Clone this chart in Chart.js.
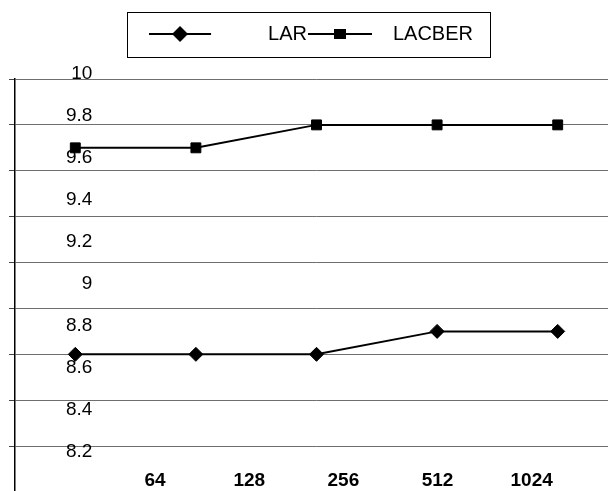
<!DOCTYPE html>
<html lang="en">
<head>
<meta charset="UTF-8">
<title>LAR / LACBER</title>
<script src="https://cdn.jsdelivr.net/npm/chart.js"></script>
<style>
  html, body { margin: 0; padding: 0; background: #fff; }
  #wrap { width: 608px; height: 491px; overflow: hidden; position: relative; }
  #chart { position: absolute; left: 0; top: 0; }
</style>
</head>
<body>
<div id="wrap"><canvas id="chart" width="650" height="500"></canvas></div>
<script>
const categories = ['64', '128', '256', '512', '1024'];
const lar = [8.8, 8.8, 8.8, 8.9, 8.9];
const lacber = [9.7, 9.7, 9.8, 9.8, 9.8];
const yTickValues = [10, 9.8, 9.6, 9.4, 9.2, 9, 8.8, 8.6, 8.4, 8.2];

Chart.defaults.font.family = "'Liberation Sans', Arial, sans-serif";
Chart.defaults.color = '#000';

// legend swatch: a short line with the marker in the middle
function legendIcon(marker, imgWidth, lineFrom, lineTo) {
    const c = document.createElement('canvas');
    c.width = imgWidth;
    c.height = 18;
    const g = c.getContext('2d');
    g.strokeStyle = '#000';
    g.lineWidth = 2;
    g.beginPath();
    g.moveTo(lineFrom, 9);
    g.lineTo(lineTo, 9);
    g.stroke();
    const cx = (lineFrom + lineTo) / 2;
    g.fillStyle = '#000';
    g.beginPath();
    if (marker === 'diamond') {
        g.moveTo(cx, 1); g.lineTo(cx + 8, 9); g.lineTo(cx, 17); g.lineTo(cx - 8, 9);
        g.closePath();
    } else {
        g.rect(cx - 6, 4, 12, 10);
    }
    g.fill();
    return c;
}
const icons = [legendIcon('diamond', 142, 0, 62), legendIcon('square', 76, 1, 65)];

const legendFrame = {
    id: 'legendFrame',
    afterDraw(chart) {
        const hb = chart.legend.legendHitBoxes;
        if (!hb || !hb.length) return;
        const first = hb[0], last = hb[hb.length - 1];
        const x0 = Math.round(first.left - 55) + 0.5;
        const x1 = Math.round(last.left + last.width + 17) + 0.5;
        const y0 = Math.round(first.top - 12) + 0.5;
        const y1 = Math.round(first.top + 33) + 0.5;
        const ctx = chart.ctx;
        ctx.save();
        ctx.strokeStyle = '#000';
        ctx.lineWidth = 1;
        ctx.strokeRect(x0, y0, x1 - x0, y1 - y0);
        ctx.restore();
    }
};

new Chart(document.getElementById('chart'), {
    type: 'line',
    data: {
        labels: categories,
        datasets: [{
            label: 'LAR',
            data: lar,
            borderColor: '#000',
            backgroundColor: '#000',
            borderWidth: 2,
            pointStyle: 'rectRot',
            pointRadius: 7,
            pointBorderWidth: 1,
            tension: 0
        }, {
            label: 'LACBER',
            data: lacber,
            borderColor: '#000',
            backgroundColor: '#000',
            borderWidth: 2,
            pointStyle: 'rect',
            pointRadius: 7,
            pointBorderWidth: 1,
            tension: 0
        }]
    },
    options: {
        responsive: false,
        animation: false,
        layout: { padding: { left: 9, top: 24, right: 4, bottom: 8 } },
        plugins: {
            tooltip: { enabled: false },
            legend: {
                position: 'top',
                labels: {
                    usePointStyle: true,
                    pointStyleWidth: 76,
                    padding: 0,
                    font: { size: 20 },
                    color: '#000',
                    generateLabels: chart => chart.data.datasets.map((ds, i) => ({
                        text: ds.label,
                        pointStyle: icons[i],
                        datasetIndex: i,
                        fillStyle: '#000',
                        strokeStyle: '#000',
                        lineWidth: 0,
                        hidden: false
                    }))
                }
            }
        },
        scales: {
            x: {
                type: 'category',
                position: 'top',
                offset: true,
                grid: { display: false, drawTicks: false },
                border: { display: false },
                ticks: { display: false },
                afterFit: s => { s.height = 25; }
            },
            xText: {
                type: 'linear',
                position: 'bottom',
                min: -1.488,
                max: 4.917,
                grid: { display: false, drawTicks: false },
                border: { display: false },
                ticks: {
                    mirror: true,
                    padding: 0,
                    autoSkip: false,
                    maxRotation: 0,
                    font: { size: 19, weight: 'bold' },
                    callback: v => categories[v]
                },
                afterBuildTicks: s => { s.ticks = categories.map((_, i) => ({ value: i })); },
                afterFit: s => { s.height = 0; s.paddingLeft = 0; s.paddingRight = 0; }
            },
            y: {
                type: 'linear',
                position: 'left',
                min: 8.2,
                max: 10,
                grid: { color: '#6e6e6e', lineWidth: 1, drawTicks: true, tickLength: 6, tickColor: '#444' },
                border: { display: true, color: '#000', width: 1.5 },
                ticks: { display: false, stepSize: 0.2 },
                afterBuildTicks: s => { s.ticks = yTickValues.map(v => ({ value: v })); }
            },
            yText: {
                type: 'linear',
                position: 'left',
                min: 8.0071,
                max: 9.9738,
                grid: { display: false, drawTicks: false },
                border: { display: false },
                ticks: {
                    mirror: true,
                    crossAlign: 'far',
                    padding: 57,
                    autoSkip: false,
                    font: { size: 19 },
                    callback: v => String(v)
                },
                afterBuildTicks: s => { s.ticks = yTickValues.map(v => ({ value: v })); },
                afterFit: s => { s.width = 0; s.paddingTop = 0; s.paddingBottom = 0; }
            },
            edge: {
                type: 'linear',
                position: 'right',
                grid: { display: false, drawTicks: false },
                border: { display: false },
                ticks: { display: false },
                afterFit: s => { s.width = 28; }
            }
        }
    },
    plugins: [legendFrame]
});
</script>
</body>
</html>
